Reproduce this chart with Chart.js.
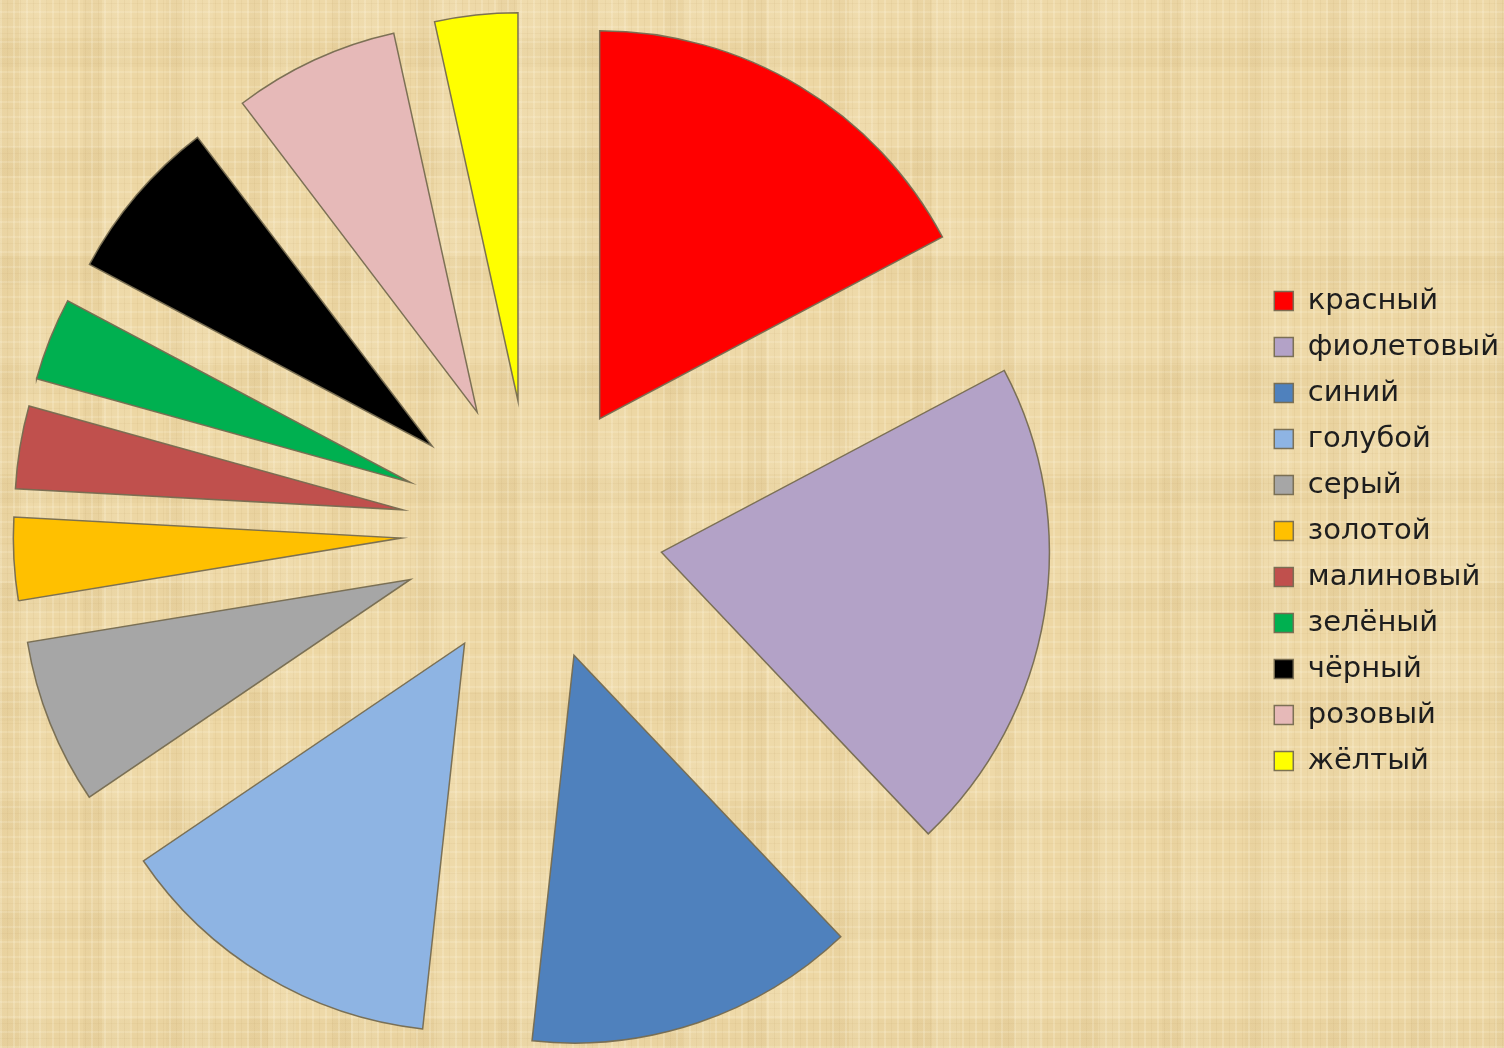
<!DOCTYPE html>
<html lang="ru">
<head>
<meta charset="utf-8">
<title>Любимые цвета</title>
<script src="https://cdn.jsdelivr.net/npm/chart.js@4.4.1/dist/chart.umd.min.js"></script>
<style>
  html, body { margin: 0; padding: 0; overflow: hidden; }
  body {
    width: 1504px;
    height: 1048px;
    position: relative;
    /* papyrus-like paper: fine fibres plus soft wider bands in both directions */
    background-color: #edd7a4;
    background-image:
      repeating-linear-gradient(90deg, rgba(255,248,226,0.22) 0 2px, rgba(255,248,226,0) 2px 7px, rgba(180,146,86,0.09) 7px 8px, rgba(180,146,86,0) 8px 13px),
      repeating-linear-gradient(0deg, rgba(255,248,226,0.18) 0 2px, rgba(255,248,226,0) 2px 9px, rgba(180,146,86,0.08) 9px 10px, rgba(180,146,86,0) 10px 15px),
      repeating-linear-gradient(90deg, rgba(165,132,72,0.05) 0 19px, rgba(255,250,234,0.07) 19px 47px, rgba(165,132,72,0) 47px 83px),
      repeating-linear-gradient(0deg, rgba(165,132,72,0.045) 0 29px, rgba(255,250,234,0.06) 29px 67px, rgba(165,132,72,0) 67px 109px);
  }
  #chartBox { position: absolute; top: 0; height: 1048px; }
</style>
</head>
<body>
<div id="chartBox"><canvas id="pie"></canvas></div>
<script>
// favourite colours, number of answers for each
const colorNames = ["красный", "фиолетовый", "синий", "голубой", "серый", "золотой",
                    "малиновый", "зелёный", "чёрный", "розовый", "жёлтый"];
const answers = [5, 6, 4, 4, 2, 1, 1, 1, 2, 2, 1];
const sliceColors = ["#ff0000", "#b3a2c7", "#4f81bd", "#8eb4e3", "#a6a6a6", "#ffc000",
                     "#c0504d", "#00b050", "#000000", "#e6b9b8", "#ffff00"];

const PIE_RADIUS = 388;
const EXPLODE = 131;          // how far every slice is pulled out from the centre
const CENTER_X = 532;
const CENTER_Y = 531;

const legendFont = { family: "'DejaVu Sans', sans-serif", size: 29 };
const BOX = 19;
const ITEM_GAP = 17;
const LEGEND_BOX_X = 1274;

// Chart.js puts the pie in the middle of the area left of the legend,
// so the canvas is widened and shifted left to get the centre and legend where wanted.
const measure = document.createElement("canvas").getContext("2d");
measure.font = legendFont.size + "px " + legendFont.family;
const widest = Math.max(...colorNames.map(t => measure.measureText(t).width));
const itemWidth = BOX + legendFont.size / 2 + widest;
const legendWidth = ITEM_GAP + itemWidth + 10;
const shift = (LEGEND_BOX_X + itemWidth + 10 - legendWidth) - 2 * CENTER_X;
const canvasWidth = Math.ceil(LEGEND_BOX_X + shift + itemWidth + 10);

const box = document.getElementById("chartBox");
box.style.width = canvasWidth + "px";
box.style.left = -shift + "px";

// move each arc out along its middle angle (exploded pie)
const explodeSlices = {
  id: "explodeSlices",
  afterDatasetUpdate(chart, args) {
    args.meta.data.forEach(arc => {
      const mid = (arc.startAngle + arc.endAngle) / 2;
      arc.x += Math.cos(mid) * EXPLODE;
      arc.y += Math.sin(mid) * EXPLODE;
    });
  }
};

new Chart(document.getElementById("pie"), {
  type: "pie",
  data: {
    labels: colorNames,
    datasets: [{
      data: answers,
      backgroundColor: sliceColors,
      borderColor: "rgba(118,108,80,0.95)",
      borderWidth: 1.5,
      borderJoinStyle: "miter",
      radius: PIE_RADIUS
    }]
  },
  options: {
    responsive: true,
    maintainAspectRatio: false,
    animation: false,
    layout: { padding: { left: 0, top: 2 * CENTER_Y - 1048, right: 0, bottom: 0 } },
    plugins: {
      legend: {
        position: "right",
        labels: {
          boxWidth: BOX,
          boxHeight: BOX,
          padding: ITEM_GAP,
          color: "#1e1e1e",
          font: legendFont
        }
      },
      tooltip: { enabled: false }
    }
  },
  plugins: [explodeSlices]
});
</script>
</body>
</html>
